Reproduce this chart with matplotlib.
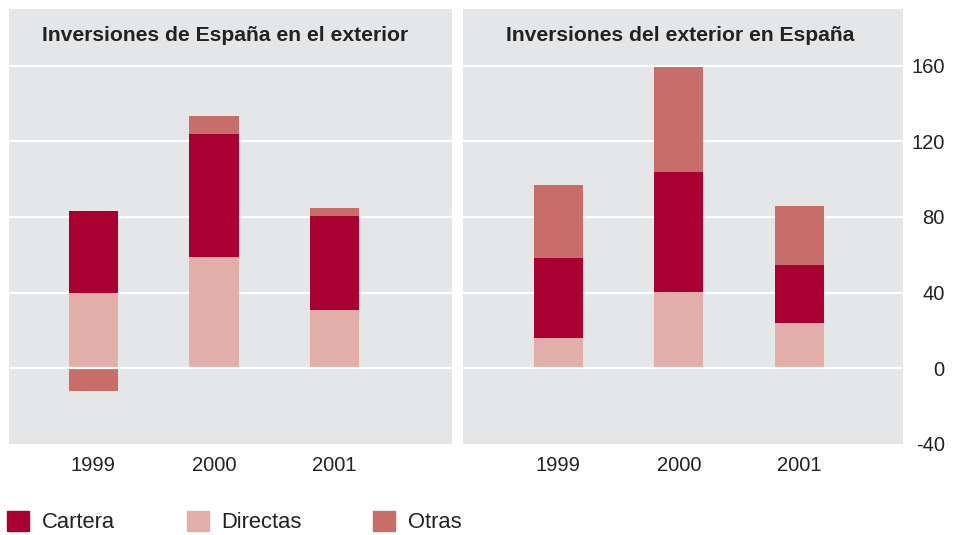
import numpy as np
import matplotlib.pyplot as plt
import matplotlib.transforms as mtrans
from matplotlib.patches import Patch

# Data (approx.)
years = ["1999", "2000", "2001"]
series = ["Cartera", "Directas", "Otras"]

# Inversiones de España en el exterior
esp_directas = [39.5, 59, 31]
esp_cartera = [43.5, 65, 49.5]
esp_otras = [-12, 9.5, 4]

# Inversiones del exterior en España
ext_directas = [16, 40.5, 24]
ext_cartera = [42.5, 63, 30.5]
ext_otras = [38.5, 56, 31.5]

titles = ["Inversiones de España en el exterior", "Inversiones del exterior en España"]
yticks = [-40, 0, 40, 80, 120, 160]

col_cartera = "#a80030"
col_directas = "#e3aea9"
col_otras = "#c76d6a"
bg = "#e5e6e8"
txt = "#222222"

plt.rcParams['font.family'] = ['Liberation Sans', 'DejaVu Sans']

fig = plt.figure(figsize=(9.6, 5.35), dpi=100)
ax1 = fig.add_axes([9 / 960, 91.3 / 535, 443 / 960, 434.7 / 535])
ax2 = fig.add_axes([463 / 960, 91.3 / 535, 440 / 960, 434.7 / 535])

x = np.arange(len(years))
w = 0.41

panels = [
    (ax1, esp_directas, esp_cartera, esp_otras, (-0.70, 2.975), 0.487),
    (ax2, ext_directas, ext_cartera, ext_otras, (-0.79, 2.86), 0.494),
]

for i, (ax, d, c, o, xl, tx) in enumerate(panels):
    ax.set_facecolor(bg)
    for s in ax.spines.values():
        s.set_visible(False)
    d = np.array(d)
    c = np.array(c)
    o = np.array(o)
    ax.bar(x, d, w, color=col_directas, zorder=2)
    ax.bar(x, c, w, bottom=d, color=col_cartera, zorder=2)
    # negative "otras" hangs below zero
    o_bottom = np.where(o >= 0, d + c, 0)
    ax.bar(x, o, w, bottom=o_bottom, color=col_otras, zorder=2)
    for yv in yticks[1:]:
        ax.axhline(yv, color="white", lw=1.6, zorder=3 if yv == 0 else 1)
    ax.set_xlim(*xl)
    ax.set_ylim(-40, 190)
    ax.set_xticks(x)
    ax.set_xticklabels(years, fontsize=14.5, color=txt)
    ax.tick_params(axis="x", length=0, pad=9)

    # title sits inside the grey band above the 160 line
    trans = mtrans.blended_transform_factory(ax.transAxes, ax.transData)
    ax.text(tx, 173, titles[i], transform=trans, fontsize=15.2, fontweight="bold",
            color=txt, ha="center", va="baseline")

    if i == 1:
        ax.yaxis.tick_right()
        ax.set_yticks(yticks)
        ax.set_yticklabels([str(v) for v in yticks], fontsize=14.5, color=txt)
        ax.tick_params(axis="y", length=0, pad=30)
        for lab in ax.get_yticklabels():
            lab.set_horizontalalignment("right")
    else:
        ax.set_yticks([])

handles = [Patch(color=col_cartera), Patch(color=col_directas), Patch(color=col_otras)]
fig.legend(handles, series, loc="lower left", bbox_to_anchor=(7 / 960, 1.5 / 535), ncol=3,
           frameon=False, fontsize=15.8, handlelength=1.0, handleheight=1.0,
           handletextpad=0.6, columnspacing=3.25, borderpad=0, borderaxespad=0,
           labelcolor=txt)

fig.savefig("out.png", dpi=100)
